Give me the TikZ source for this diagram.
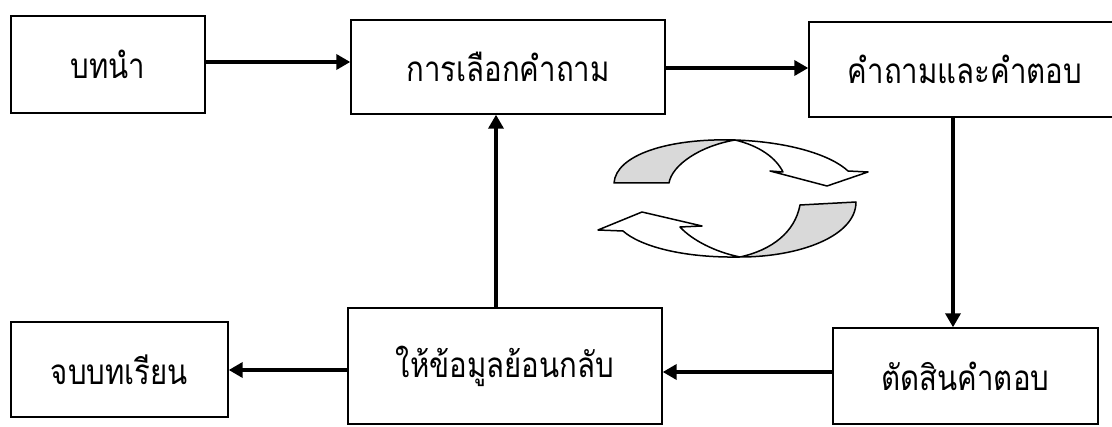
\documentclass[tikz,border=0pt]{standalone}
\usepackage{fontspec}
\newfontfamily\thaifont[Script=Thai,FakeStretch=0.84]{Loma}
\usetikzlibrary{arrows.meta}
\tikzset{
  box/.style={draw, line width=1.4pt, inner sep=0pt, font=\thaifont\fontsize{35}{40}\selectfont},
  flow/.style={line width=4.2pt, -{Triangle[length=14pt,width=15pt]}},
  ribbon/.style={draw, line width=1.5pt, line join=round},
  shade/.style={fill=gray!30},
}
\begin{document}
\begin{tikzpicture}[x=1pt,y=-1pt]
\useasboundingbox (0,0) rectangle (1112,427);
\clip (0,0) rectangle (1112,427);
\node[box, minimum width=194pt, minimum height=97pt] (b1) at (108,64.5) {บทนำ};
\node[box, minimum width=314pt, minimum height=94pt] (b2) at (508,67) {การเลือกคำถาม};
\node[box, minimum width=312pt, minimum height=95pt] (b3) at (965,69.5) {คำถามและคำตอบ};
\node[box, minimum width=265pt, minimum height=96pt] (b4) at (965.5,376) {ตัดสินคำตอบ};
\node[box, minimum width=314pt, minimum height=116pt] (b5) at (505,366) {ให้ข้อมูลย้อนกลับ};
\node[box, minimum width=217pt, minimum height=95pt] (b6) at (119.5,369.5) {จบบทเรียน};

\draw[flow] ([yshift=2.5pt]b1.east) -- ([yshift=2.5pt]b1.east -| b2.west);
\draw[flow] ([yshift=-1pt]b2.east) -- ([yshift=-1pt]b2.east -| b3.west);
\draw[flow] ([xshift=-12pt]b3.south) -- ([xshift=-12pt]b3.south |- b4.north);
\draw[flow] ([yshift=4pt]b4.west) -- ([yshift=4pt]b4.west -| b5.east);
\draw[flow] ([yshift=-4pt]b5.west) -- ([yshift=-4pt]b5.west -| b6.east);
\draw[flow] ([xshift=-9pt]b5.north) -- ([xshift=-9pt]b5.north |- b2.south);

% top curved arrow
\coordinate (T) at (735,140);
\filldraw[ribbon, shade] (614,183) .. controls (616,155) and (668,138) .. (T)
  .. controls (700,146) and (672,165) .. (669,183) -- cycle;
\draw[ribbon, fill=white] (T) .. controls (792,142) and (832,156) .. (848,171)
  -- (868,172) -- (827,186) -- (770,171) -- (783,172)
  .. controls (776,158) and (760,146) .. (T);
% bottom curved arrow
\coordinate (B) at (740,257);
\filldraw[ribbon, shade] (856,202) .. controls (856,236) and (800,257) .. (B)
  .. controls (772,250) and (795,232) .. (800,205) -- cycle;
\draw[ribbon, fill=white] (B) .. controls (682,258) and (640,246) .. (623,231)
  -- (598,230) -- (642,212) -- (702,226) -- (680,227)
  .. controls (692,240) and (715,252) .. (B);
\end{tikzpicture}
\end{document}
